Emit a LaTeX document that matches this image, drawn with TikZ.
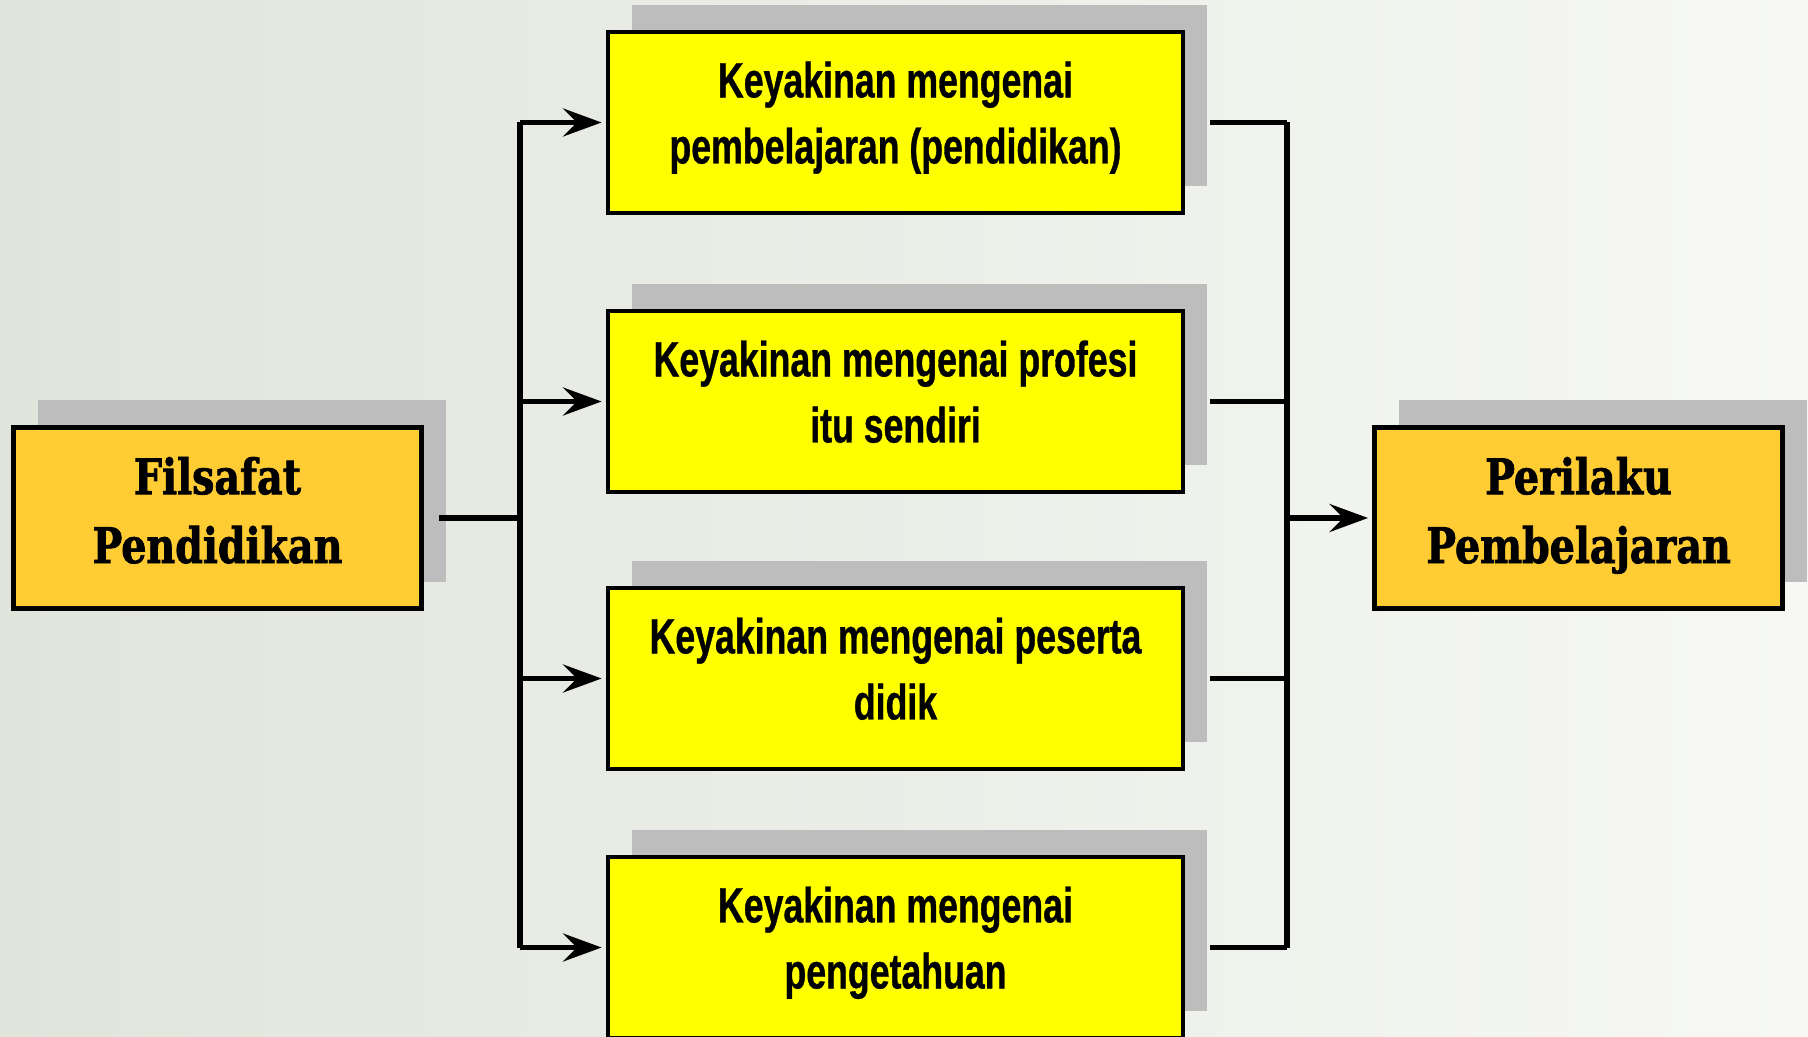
\documentclass[tikz,border=0pt]{standalone}
\usepackage{fontspec}
\newfontfamily\slabfont[FakeStretch=0.81,BoldFeatures={FakeBold=1.6}]{DejaVu Serif}
\newfontfamily\narrowfont[FakeStretch=0.72,BoldFeatures={FakeBold=0.7}]{Liberation Sans}
\usetikzlibrary{arrows.meta,shadows}
\definecolor{fpgold}{RGB}{255,204,51}
\definecolor{fpyellow}{RGB}{255,255,0}
\definecolor{fpshadow}{RGB}{189,189,189}
\definecolor{fpbgleft}{RGB}{224,229,220}
\definecolor{fpbgright}{RGB}{247,248,244}
\tikzset{
  boxbase/.style={rectangle,draw=black,line width=1.4pt,align=center,
    drop shadow={shadow xshift=0.24cm,shadow yshift=0.27cm,fill=fpshadow,opacity=1}},
  endnode/.style={boxbase,fill=fpgold,minimum width=4.08cm,minimum height=1.81cm,
    text depth=0.16cm,font=\slabfont\bfseries\fontsize{13.9}{19.6}\selectfont},
  beliefnode/.style={boxbase,fill=fpyellow,minimum width=5.75cm,minimum height=1.81cm,
    text depth=0.2cm,font=\narrowfont\bfseries\fontsize{14.1}{18.8}\selectfont},
  busline/.style={line width=1.5pt,draw=black},
  feedarrow/.style={busline,-{Stealth[length=11pt,width=8pt,inset=4pt]},shorten >=0.4mm}
}

\begin{document}
\begin{tikzpicture}
  \fill[left color=fpbgleft,right color=fpbgright] (0,0) rectangle (18.08,10.36);
  \useasboundingbox (0,0) rectangle (18.08,10.36);
  \node[endnode] (filsafat) at (2.175,5.18) {Filsafat\\Pendidikan};
  \node[beliefnode] (yakin1) at (8.955,9.135) {Keyakinan mengenai\\pembelajaran (pendidikan)};
  \node[beliefnode] (yakin2) at (8.955,6.345) {Keyakinan mengenai profesi\\itu sendiri};
  \node[beliefnode] (yakin3) at (8.955,3.575) {Keyakinan mengenai peserta\\didik};
  \node[beliefnode] (yakin4) at (8.955,0.885) {Keyakinan mengenai\\pengetahuan};
  \node[endnode] (perilaku) at (15.785,5.18) {Perilaku\\Pembelajaran};
  \coordinate (lbus) at (5.20,5.18);
  \coordinate (rbus) at (12.87,5.18);
  % left side
  \draw[busline] ([xshift=1.5mm]filsafat.east) -- (filsafat.east -| lbus);
  \draw[busline] (yakin1.west -| lbus) -- (yakin4.west -| lbus);
  \foreach \i in {1,...,4}
    \draw[feedarrow] (yakin\i.west -| lbus) -- (yakin\i.west);
  % right side
  \foreach \i in {1,...,4}
    \draw[busline] ([xshift=2.5mm]yakin\i.east) -- (yakin\i.east -| rbus);
  \draw[busline] (yakin1.east -| rbus) -- (yakin4.east -| rbus);
  \draw[feedarrow] (perilaku.west -| rbus) -- (perilaku.west);
\end{tikzpicture}
\end{document}
